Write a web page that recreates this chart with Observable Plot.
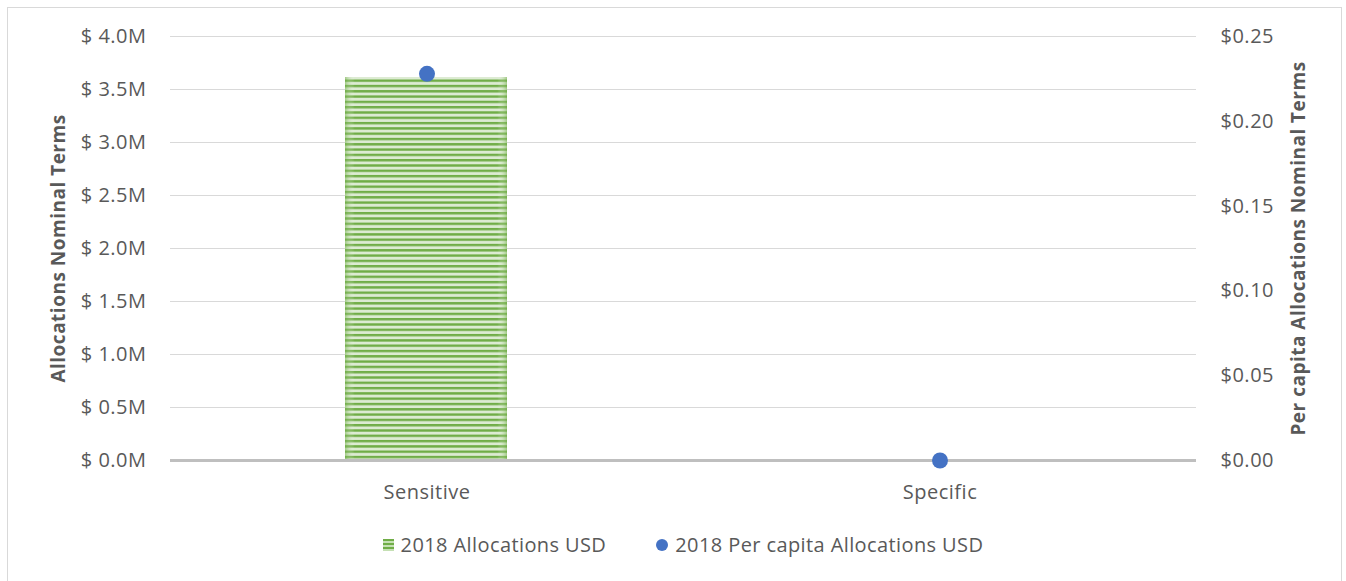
<!DOCTYPE html>
<html>
<head>
<meta charset="utf-8">
<script src="https://cdn.jsdelivr.net/npm/d3@7"></script>
<script src="https://cdn.jsdelivr.net/npm/@observablehq/plot@0.6"></script>
<style>
  html, body { margin: 0; padding: 0; background: #fff; }
  #frame { position: absolute; left: 7px; top: 7px; width: 1335px; height: 580px; border: 1.5px solid #D9D9D9; box-sizing: border-box; }
  #chart { position: absolute; left: 0; top: 0; }
  #chart svg text { letter-spacing: 0.5px; }
  #legend { position: absolute; left: 10px; top: 531px; width: 1346px; display: flex; justify-content: center; gap: 50px;
    font-family: "Open Sans", sans-serif; font-size: 20px; letter-spacing: 0.4px; color: #595959; }
  .item { display: flex; align-items: center; gap: 7px; }
</style>
</head>
<body>
<div id="frame"></div>
<div id="chart"></div>
<div id="legend"></div>
<script>
const categories = ["Sensitive", "Specific"];
const allocationsUSD = [3613000, 0];
const perCapitaUSD = [0.228, 0];
const leftTicks = [0, 500000, 1000000, 1500000, 2000000, 2500000, 3000000, 3500000, 4000000];
const rightTicks = [0, 0.05, 0.10, 0.15, 0.20, 0.25];
const seriesNames = ["2018 Allocations USD", "2018 Per capita Allocations USD"];

const ratio = 4000000 / 0.25;
const rows = categories.map((c, i) => ({category: c, alloc: allocationsUSD[i], perCapita: perCapitaUSD[i]}));

const defs = () => {
  const d = d3.create("svg:defs");
  const p = d.append("pattern").attr("id", "stripes").attr("patternUnits", "userSpaceOnUse")
    .attr("width", 8).attr("height", 5.3);
  p.append("rect").attr("width", 8).attr("height", 5.3).attr("fill", "#DCEBD2");
  p.append("rect").attr("width", 8).attr("height", 2.4).attr("fill", "#70AD47");
  const g = d.append("linearGradient").attr("id", "edge").attr("x1", 0).attr("x2", 1);
  g.append("stop").attr("offset", 0).attr("stop-color", "#70AD47").attr("stop-opacity", 0.55);
  g.append("stop").attr("offset", 0.06).attr("stop-color", "#fff").attr("stop-opacity", 0);
  g.append("stop").attr("offset", 0.94).attr("stop-color", "#fff").attr("stop-opacity", 0);
  g.append("stop").attr("offset", 1).attr("stop-color", "#70AD47").attr("stop-opacity", 0.55);
  return d.node();
};

const plot = Plot.plot({
  width: 1346,
  height: 520,
  marginLeft: 170,
  marginRight: 150,
  marginTop: 36,
  marginBottom: 60,
  style: {fontFamily: "Open Sans, sans-serif", fontSize: "20px", color: "#595959", background: "transparent"},
  x: {domain: categories, padding: 0, label: null},
  y: {domain: [0, 4000000], label: null},
  marks: [
    defs,
    Plot.gridY(leftTicks.filter(d => d > 0), {stroke: "#D9D9D9", strokeOpacity: 1, strokeWidth: 1}),
    Plot.barY(rows, {x: "category", y: "alloc", fill: "url(#stripes)", insetLeft: 175, insetRight: 176}),
    Plot.barY(rows, {x: "category", y: "alloc", fill: "url(#edge)", insetLeft: 175, insetRight: 176}),
    Plot.ruleY([0], {stroke: "#BFBFBF", strokeWidth: 3}),
    Plot.axisY({ticks: leftTicks, tickSize: 0, tickPadding: 24, tickFormat: d => `$ ${(d / 1e6).toFixed(1)}M`, label: null, fill: "#595959", fontSize: 20}),
    Plot.axisY({anchor: "right", ticks: rightTicks.map(v => v * ratio), tickSize: 0, tickPadding: 24, tickFormat: d => `$${(d / ratio).toFixed(2)}`, label: null, fill: "#595959", fontSize: 20}),
    Plot.axisX({tickSize: 0, tickPadding: 24, label: null, fill: "#595959", fontSize: 20}),
    Plot.text(["Allocations Nominal Terms"], {frameAnchor: "left", dx: -112, rotate: -90, textAnchor: "middle", fontWeight: "bold", fill: "#595959", fontSize: 19}),
    Plot.text(["Per capita Allocations Nominal Terms"], {frameAnchor: "right", dx: 102, rotate: -90, textAnchor: "middle", fontWeight: "bold", fill: "#595959", fontSize: 19}),
    Plot.dot(rows, {x: "category", y: d => d.perCapita * ratio, r: 8, fill: "#4472C4"})
  ]
});
document.getElementById("chart").append(plot);

const legend = document.getElementById("legend");
legend.innerHTML = `
  <div class="item"><svg width="11" height="12"><rect width="11" height="12" fill="url(#stripesL)"/>
    <defs><pattern id="stripesL" patternUnits="userSpaceOnUse" width="12" height="4"><rect width="12" height="4" fill="#C5E0B4"/><rect width="12" height="2" fill="#70AD47"/></pattern></defs></svg><span>${seriesNames[0]}</span></div>
  <div class="item"><svg width="12" height="12"><circle cx="6" cy="6" r="6" fill="#4472C4"/></svg><span>${seriesNames[1]}</span></div>`;
</script>
</body>
</html>
